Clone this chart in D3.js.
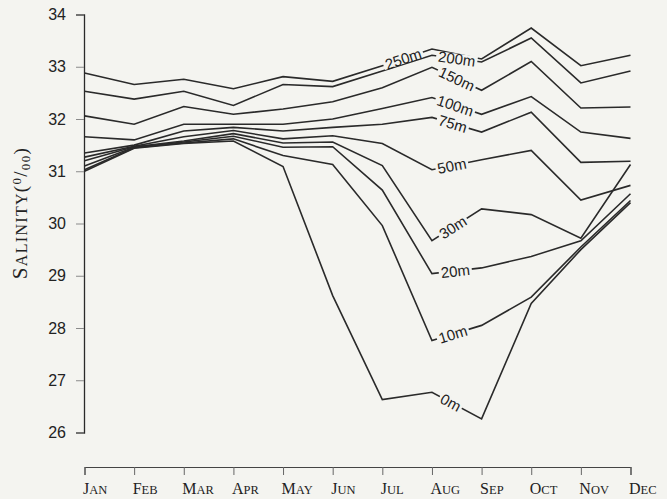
<!DOCTYPE html>
<html>
<head>
<meta charset="utf-8">
<script src="https://cdn.jsdelivr.net/npm/d3@7"></script>
<style>
  html, body { margin: 0; padding: 0; background: #f4f4f0; }
  svg { display: block; }
</style>
</head>
<body>
<svg id="chart" width="667" height="499"></svg>
<script>
const months = ["Jan","Feb","Mar","Apr","May","Jun","Jul","Aug","Sep","Oct","Nov","Dec"];
const yTicks = [26, 27, 28, 29, 30, 31, 32, 33, 34];
const depths = ["250m","200m","150m","100m","75m","50m","30m","20m","10m","0m"];

const s250 = [32.88, 32.66, 32.76, 32.58, 32.81, 32.72, 33.02, 33.34, 33.15, 33.74, 33.02, 33.22];
const s200 = [32.53, 32.38, 32.53, 32.26, 32.66, 32.62, 32.92, 33.22, 33.09, 33.55, 32.69, 32.92];
const s150 = [32.06, 31.90, 32.24, 32.09, 32.19, 32.33, 32.60, 32.99, 32.55, 33.10, 32.21, 32.23];
const s100 = [31.66, 31.60, 31.90, 31.90, 31.90, 32.00, 32.20, 32.41, 32.09, 32.43, 31.75, 31.63];
const s75  = [31.35, 31.50, 31.77, 31.84, 31.77, 31.84, 31.90, 32.03, 31.75, 32.13, 31.17, 31.19];
const s50  = [31.27, 31.48, 31.66, 31.78, 31.62, 31.68, 31.53, 31.03, 31.22, 31.40, 30.45, 30.73];
const s30  = [31.20, 31.47, 31.58, 31.72, 31.54, 31.56, 31.11, 29.67, 30.28, 30.17, 29.72, 31.13];
const s20  = [31.10, 31.46, 31.56, 31.67, 31.46, 31.47, 30.64, 29.04, 29.15, 29.37, 29.67, 30.57];
const s10  = [31.03, 31.45, 31.54, 31.62, 31.30, 31.13, 29.96, 27.76, 28.05, 28.59, 29.55, 30.44];
const s0   = [31.00, 31.44, 31.53, 31.58, 31.09, 28.62, 26.63, 26.77, 26.26, 28.47, 29.50, 30.40];

// label placement: segment start month index and fraction along that segment
const labelSegment = [6, 7, 7, 7, 7, 7, 7, 7, 7, 7];
const labelFrac    = [0.42, 0.5, 0.5, 0.47, 0.42, 0.4, 0.42, 0.47, 0.42, 0.38];

const seriesValues = [s250, s200, s150, s100, s75, s50, s30, s20, s10, s0];
const series = depths.map((d, i) => ({ name: d, values: seriesValues[i], seg: labelSegment[i], t: labelFrac[i] }));

const BG = "#f4f4f0";
const INK = "#2a2a2a";
const SERIF = "'Liberation Serif', 'Times New Roman', serif";
const SANS = "'Liberation Sans', Arial, sans-serif";

const svg = d3.select("#chart");
svg.append("rect").attr("width", 667).attr("height", 499).attr("fill", BG);

const x = d3.scalePoint().domain(months).range([84.5, 630.5]);
const y = d3.scaleLinear().domain([26, 34]).range([432.5, 14.5]);

// emulate small caps: first letter large, rest uppercase smaller
function smallCaps(textSel, word, big, small) {
  textSel.append("tspan").attr("font-size", big).text(word[0]);
  textSel.append("tspan").attr("font-size", small).text(word.slice(1).toUpperCase());
}

// y axis
const yAxis = d3.axisLeft(y).tickValues(yTicks).tickFormat(d3.format("d")).tickSize(8).tickPadding(10);
const gy = svg.append("g").attr("transform", "translate(84,0)").call(yAxis);
gy.select(".domain").attr("stroke", INK).attr("stroke-width", 1.3);
gy.selectAll(".tick line").attr("stroke", "#8a8a8a").attr("stroke-width", 1);
gy.selectAll(".tick text")
  .attr("font-family", SANS)
  .attr("font-size", 16).attr("fill", "#222");

// x axis
const xAxis = d3.axisBottom(x).tickSize(8).tickSizeOuter(8).tickFormat(d => d);
const gx = svg.append("g").attr("transform", "translate(0,467)").call(xAxis);
gx.select(".domain").attr("stroke", "#444").attr("stroke-width", 1.2);
gx.selectAll(".tick line").attr("stroke", "#666").attr("stroke-width", 1);
gx.selectAll(".tick text")
  .attr("font-family", SERIF)
  .attr("fill", "#222")
  .attr("text-anchor", "start").attr("x", -2).attr("y", 27).attr("dy", null)
  .each(function(d) {
    const t = d3.select(this);
    t.text(null);
    smallCaps(t, d, 16, 12.5);
  });

// y title
const title = svg.append("text")
  .attr("transform", "translate(27,213) rotate(-90)")
  .attr("text-anchor", "middle")
  .attr("font-family", SERIF)
  .attr("fill", "#222")
  .attr("letter-spacing", 1.3);
smallCaps(title, "Salinity", 21, 16);
title.append("tspan").attr("font-size", 19).text("(");
title.append("tspan").attr("font-size", 13).attr("dy", -6).text("0");
title.append("tspan").attr("font-size", 19).attr("dy", 6).text("/");
title.append("tspan").attr("font-size", 13).attr("dy", 3).text("00");
title.append("tspan").attr("font-size", 19).attr("dy", -3).text(")");

// lines
const line = d3.line().x((d, i) => x(months[i])).y(d => y(d));
svg.append("g").selectAll("path").data(series).join("path")
  .attr("d", d => line(d.values))
  .attr("fill", "none").attr("stroke", INK).attr("stroke-width", 1.6)
  .attr("stroke-linejoin", "miter");

// inline labels
const lg = svg.append("g");
series.forEach(s => {
  const i = s.seg;
  const x0 = x(months[i]), x1 = x(months[i + 1]);
  const y0 = y(s.values[i]), y1 = y(s.values[i + 1]);
  const cx = x0 + (x1 - x0) * s.t, cy = y0 + (y1 - y0) * s.t;
  const ang = Math.atan2(y1 - y0, x1 - x0) * 180 / Math.PI;
  const g = lg.append("g").attr("transform", `translate(${cx},${cy}) rotate(${ang})`);
  const bgr = g.append("rect").attr("fill", BG);
  const t = g.append("text")
    .attr("text-anchor", "middle").attr("dominant-baseline", "central")
    .attr("font-family", SANS)
    .attr("font-size", 15).attr("fill", "#222")
    .text(s.name);
  const w = t.node().getComputedTextLength();
  bgr.attr("x", -w / 2 - 2).attr("y", -5).attr("width", w + 4).attr("height", 10);
});
</script>
</body>
</html>
